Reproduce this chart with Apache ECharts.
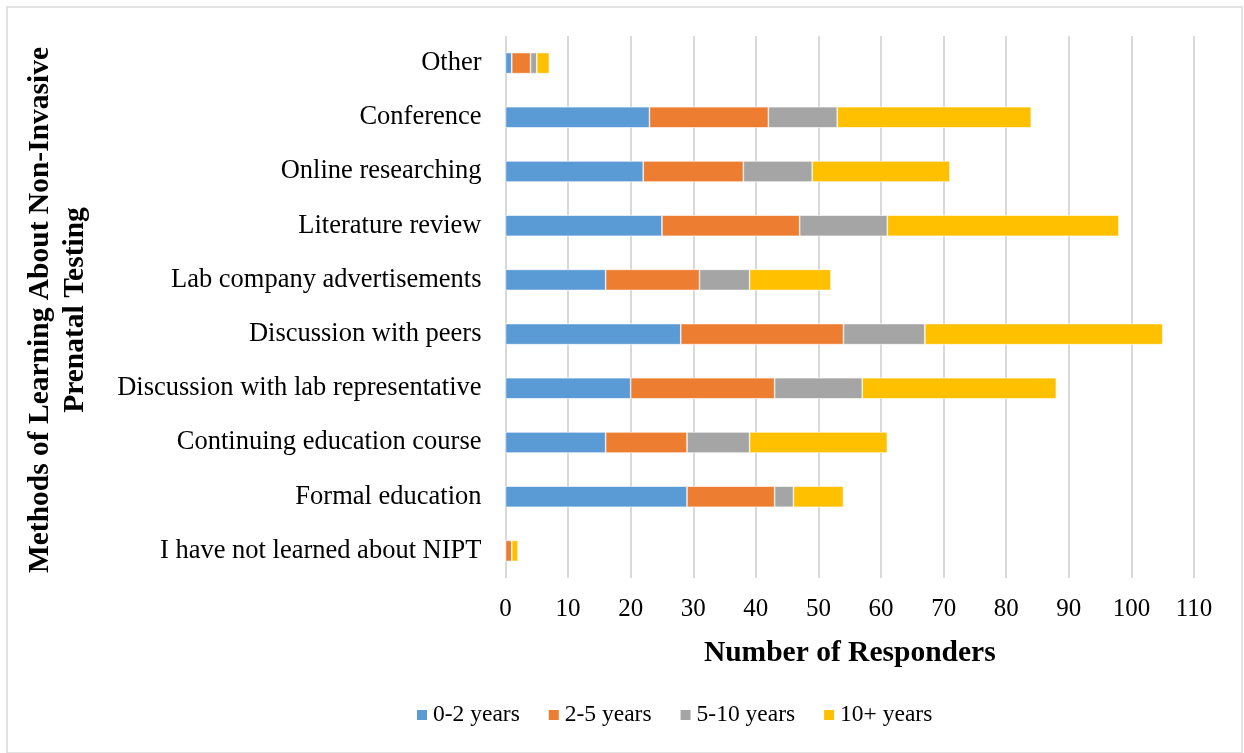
<!DOCTYPE html>
<html>
<head>
<meta charset="utf-8">
<script src="https://cdn.jsdelivr.net/npm/echarts@6/dist/echarts.min.js"></script>
<style>
  html, body { margin: 0; padding: 0; background: #ffffff; }
  #chart { width: 1244px; height: 753px; }
</style>
</head>
<body>
<div id="chart"></div>
<script>
// Sources of learning about NIPT, listed top to bottom
const categories = [
  'Other',
  'Conference',
  'Online researching',
  'Literature review',
  'Lab company advertisements',
  'Discussion with peers',
  'Discussion with lab representative',
  'Continuing education course',
  'Formal education',
  'I have not learned about NIPT'
];

// Responders by years of experience
const years0to2   = [1, 23, 22, 25, 16, 28, 20, 16, 29, 0];
const years2to5   = [3, 19, 16, 22, 15, 26, 23, 13, 14, 1];
const years5to10  = [1, 11, 11, 14,  8, 13, 14, 10,  3, 0];
const years10plus = [2, 31, 22, 37, 13, 38, 31, 22,  8, 1];

const seriesNames = ['0-2 years', '2-5 years', '5-10 years', '10+ years'];
const seriesColors = ['#5b9bd5', '#ed7d31', '#a5a5a5', '#ffc000'];
const seriesData = [years0to2, years2to5, years5to10, years10plus];

const serif = '"Liberation Serif", "DejaVu Serif", serif';

const chart = echarts.init(document.getElementById('chart'), null, { renderer: 'canvas' });

chart.setOption({
  animation: false,
  backgroundColor: '#ffffff',
  textStyle: { fontFamily: serif },
  grid: { left: 505.5, right: 50, top: 36, bottom: 175, containLabel: false },
  xAxis: {
    type: 'value',
    min: 0,
    max: 110,
    interval: 10,
    axisLine: { show: false },
    axisTick: { show: false },
    splitLine: { show: true, lineStyle: { color: '#d9d9d9', width: 2 } },
    axisLabel: { color: '#000', fontSize: 25, fontFamily: serif, margin: 19 },
    name: 'Number of Responders',
    nameLocation: 'middle',
    nameGap: 60,
    nameTextStyle: { color: '#000', fontSize: 29.5, fontWeight: 'bold', fontFamily: serif }
  },
  yAxis: {
    type: 'category',
    data: categories,
    inverse: true,
    axisLine: { show: false },
    axisTick: { show: false },
    axisLabel: { color: '#000', fontSize: 26.5, fontFamily: serif, margin: 24, padding: [8, 0, 0, 0] }
  },
  legend: {
    data: seriesNames,
    bottom: 21,
    left: 410,
    itemWidth: 12,
    itemHeight: 12,
    itemGap: 27,
    icon: 'rect',
    textStyle: { color: '#000', fontSize: 23.5, fontFamily: serif, padding: [0, 0, 0, 0] }
  },
  graphic: [
    {
      type: 'rect',
      shape: { x: 7, y: 7, width: 1235, height: 746 },
      style: { fill: 'none', stroke: '#d9d9d9', lineWidth: 1.5 },
      silent: true
    },
    {
      type: 'text',
      x: 57.5,
      y: 310,
      rotation: Math.PI / 2,
      style: {
        text: 'Methods of Learning About Non-Invasive\nPrenatal Testing',
        fill: '#000',
        font: 'bold 29.5px ' + serif,
        align: 'center',
        verticalAlign: 'middle',
        lineHeight: 35
      }
    }
  ],
  series: seriesNames.map((name, i) => ({
    name: name,
    type: 'bar',
    stack: 'total',
    data: seriesData[i],
    barWidth: 21,
    itemStyle: { color: seriesColors[i], borderColor: '#ffffff', borderWidth: 0.6 }
  }))
});
</script>
</body>
</html>
